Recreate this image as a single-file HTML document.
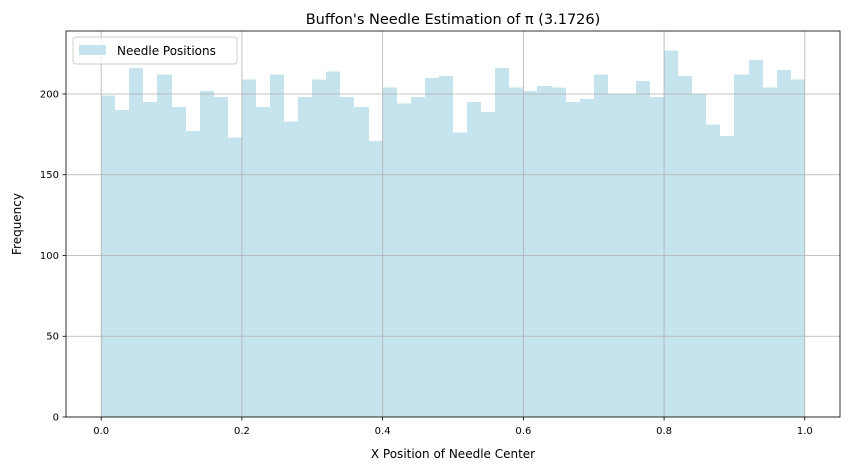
<!DOCTYPE html>
<html><head><meta charset="utf-8"><style>
body{margin:0;background:#fff;font-family:"Liberation Sans","DejaVu Sans",sans-serif;}
svg text{font-family:"DejaVu Sans","Liberation Sans",sans-serif;}
</style></head><body>
<svg id="chart" width="850" height="470" xmlns="http://www.w3.org/2000/svg">
<rect width="850" height="470" fill="#fff"/>
<g id="bars" shape-rendering="crispEdges"></g>
<g id="grid"></g>
<g id="axes"></g>
<text x="453" y="24" text-anchor="middle" font-size="14.5" fill="#000">Buffon's Needle Estimation of π (3.1726)</text>
<text x="453" y="458" text-anchor="middle" font-size="12" fill="#000">X Position of Needle Center</text>
<text x="21" y="224" text-anchor="middle" font-size="12" fill="#000" transform="rotate(-90 21 224)">Frequency</text>
<g>
<rect x="73" y="37" width="164" height="27" rx="3" fill="#fff" fill-opacity="0.8" stroke="#ccc"/>
<rect x="79" y="45" width="27" height="10" fill="#add8e6" fill-opacity="0.7"/>
<text x="117" y="55" font-size="12" fill="#000">Needle Positions</text>
</g>
</svg>
<script>
const counts=[199,190,216,195,212,192,177,202,198,173,209,192,212,183,198,209,214,198,192,171,204,194,198,210,211,176,195,189,216,204,202,205,204,195,197,212,200,200,208,198,227,211,200,181,174,212,221,204,215,209];
const binStart=0, binWidth=0.02;
const xTicks=[0.0,0.2,0.4,0.6,0.8,1.0];
const xTickLabels=["0.0","0.2","0.4","0.6","0.8","1.0"];
const yTicks=[0,50,100,150,200];
const L=66,R=840,T=31,B=417;
const xMin=-0.05,xMax=1.05,yMin=0,yMax=239;
const X=v=>L+(v-xMin)/(xMax-xMin)*(R-L);
const Y=v=>B-(v-yMin)/(yMax-yMin)*(B-T);
const NS="http://www.w3.org/2000/svg";
function mk(t,a,p){const e=document.createElementNS(NS,t);for(const k in a)e.setAttribute(k,a[k]);p.appendChild(e);return e;}
const bars=document.getElementById('bars'),grid=document.getElementById('grid'),axes=document.getElementById('axes');
counts.forEach((c,i)=>{
 const x0=Math.round(X(binStart+i*binWidth)),x1=Math.round(X(binStart+(i+1)*binWidth));
 const r=mk('rect',{x:x0,y:Y(c),width:x1-x0,height:Y(0)-Y(c),fill:'#add8e6','fill-opacity':0.7},bars);
 
 
});
xTicks.forEach((v,i)=>{
 const x=X(v);
 const g=mk('line',{x1:x,x2:x,y1:T,y2:B,stroke:'#b0b0b0','stroke-width':0.8},grid);
 
 
 mk('line',{x1:x,x2:x,y1:B,y2:B+3.5,stroke:'#000','stroke-width':0.8},axes);
 const t=mk('text',{x:x,y:B+17,'text-anchor':'middle','font-size':10,fill:'#000'},axes);
 t.textContent=xTickLabels[i];
 
 
});
yTicks.forEach(v=>{
 const y=Y(v);
 const g=mk('line',{x1:L,x2:R,y1:y,y2:y,stroke:'#b0b0b0','stroke-width':0.8},grid);
 
 
 mk('line',{x1:L-3.5,x2:L,y1:y,y2:y,stroke:'#000','stroke-width':0.8},axes);
 const t=mk('text',{x:L-7,y:y+3.5,'text-anchor':'end','font-size':10,fill:'#000'},axes);
 t.textContent=String(v);
 
 
});
const f=mk('rect',{x:L,y:T,width:R-L,height:B-T,fill:'none',stroke:'#000','stroke-width':0.8},axes);


</script>
</body></html>
